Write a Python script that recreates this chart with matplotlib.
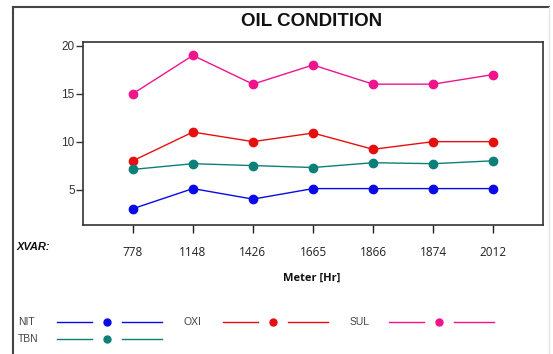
import numpy as np
import matplotlib.pyplot as plt
from matplotlib.lines import Line2D

# data
meter = ['778', '1148', '1426', '1665', '1866', '1874', '2012']
nit = [3.0, 5.1, 4.0, 5.1, 5.1, 5.1, 5.1]
oxi = [8.0, 11.0, 10.0, 10.9, 9.2, 10.0, 10.0]
sul = [15.0, 19.0, 16.0, 18.0, 16.0, 16.0, 17.0]
tbn = [7.1, 7.7, 7.5, 7.3, 7.8, 7.7, 8.0]

series = [('NIT', nit, '#0a0ae6'), ('OXI', oxi, '#e60f0f'),
          ('SUL', sul, '#f0148c'), ('TBN', tbn, '#0a8078')]

W, H = 553, 354
fig = plt.figure(figsize=(W / 100, H / 100), dpi=100)
ax = fig.add_axes([83 / W, 1 - 225 / H, (543 - 83) / W, (225 - 42) / H])

x = np.arange(len(meter))
for name, vals, col in series:
    ax.plot(x, vals, '-', color=col, lw=1.0, marker='o', ms=6, mec=col)

ax.set_xlim(-0.83, len(meter) - 1 + 0.83)
ax.set_ylim(1.3, 20.4)
ax.set_yticks([5, 10, 15, 20])
ax.set_xticks(x)
ax.set_xticklabels(meter, family='Open Sans', fontsize=8.5)
for lbl in ax.get_yticklabels():
    lbl.set_fontfamily('Liberation Sans')
    lbl.set_fontsize(8.5)
ax.tick_params(axis='x', length=6, width=1, pad=9, colors='#222222')
ax.tick_params(axis='y', length=5, width=1, pad=1, colors='#333333')
for s in ax.spines.values():
    s.set_linewidth(1.2)
    s.set_color('#333333')

# outer frame
fig.add_artist(Line2D([13 / W, 549 / W], [1 - 7 / H, 1 - 7 / H], color='#444444', lw=1.5))
fig.add_artist(Line2D([13 / W, 13 / W], [1 - 7 / H, 0], color='#444444', lw=1.5))
fig.add_artist(Line2D([549 / W, 549 / W], [1 - 7 / H, 0], color='#e6e6e6', lw=1))

fig.text(312 / W, 1 - 21 / H, 'OIL CONDITION', ha='center', va='center',
         fontsize=13.5, fontweight='bold', family='Liberation Sans', color='#111111')
fig.text(17 / W, 1 - 247 / H, 'XVAR:', ha='left', va='center', fontsize=8,
         fontweight='bold', style='italic', family='Liberation Sans', color='#111111')
fig.text(312 / W, 1 - 278 / H, 'Meter [Hr]', ha='center', va='center', fontsize=8,
         fontweight='bold', family='Open Sans', color='#111111')

# legend drawn by hand: label, line, dot, line
leg_pos = {'NIT': (18, 322), 'OXI': (184, 322), 'SUL': (350, 322), 'TBN': (18, 339)}
for name, vals, col in series:
    lx, ly = leg_pos[name]
    yy = 1 - ly / H
    fig.text(lx / W, yy, name, ha='left', va='center', fontsize=7.5,
             family='Liberation Sans', color='#444444')
    fig.add_artist(Line2D([(lx + 39) / W, (lx + 74) / W], [yy, yy], color=col, lw=1))
    fig.add_artist(Line2D([(lx + 89) / W], [yy], marker='o', ms=5, color=col, lw=0))
    fig.add_artist(Line2D([(lx + 104) / W, (lx + 144) / W], [yy, yy], color=col, lw=1))

fig.savefig('out.png', dpi=100)
